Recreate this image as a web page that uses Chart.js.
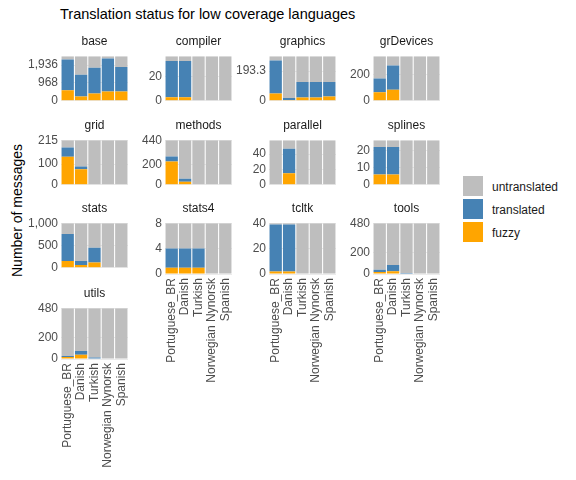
<!DOCTYPE html>
<html>
<head>
<meta charset="utf-8">
<script src="https://cdn.jsdelivr.net/npm/chart.js@4.4.0/dist/chart.umd.min.js"></script>
<style>
body { margin:0; width:576px; height:480px; background:#fff; font-family:"Liberation Sans", Arial, sans-serif; position:relative; overflow:hidden; }
.pane { position:absolute; }
.ptitle { position:absolute; font-size:12px; color:#1a1a1a; text-align:center; }
.leg { position:absolute; font-size:12px; color:#1a1a1a; }
.sw { position:absolute; width:20px; height:20px; }
</style>
</head>
<body>
<div style="position:absolute;left:60px;top:6px;font-size:14.5px;color:#000">Translation status for low coverage languages</div>
<div style="position:absolute;left:-48px;top:204px;width:130px;transform:rotate(-90deg);font-size:14px;color:#000;text-align:center;white-space:nowrap">Number of messages</div>
<div class="leg" style="left:463px;top:166px;font-size:13px"></div>
<div class="sw" style="left:463px;top:176px;background:#bebebe"></div><div class="leg" style="left:492px;top:180px">untranslated</div>
<div class="sw" style="left:463px;top:199px;background:#4682b4"></div><div class="leg" style="left:492px;top:203px">translated</div>
<div class="sw" style="left:463px;top:222px;background:#ffa500"></div><div class="leg" style="left:492px;top:226px">fuzzy</div>
<script>
const languages = ['Portuguese_BR', 'Danish', 'Turkish', 'Norwegian Nynorsk', 'Spanish'];
const packages = ['base','compiler','graphics','grDevices','grid','methods','parallel','splines','stats','stats4','tcltk','tools','utils'];
const totals = [2420, 37, 290, 340, 215, 440, 58, 26, 1000, 8, 40, 480, 480];
const steps = [500, 10, 100, 100, 50, 100, 10, 5, 250, 2, 10, 100, 100];
const fuzzy = [
  [570, 230, 400, 500, 500],
  [3, 3, 0, 0, 0],
  [48, 5, 22, 22, 28],
  [65, 85, 0, 0, 0],
  [135, 75, 0, 0, 0],
  [230, 30, 0, 0, 0],
  [0, 15, 0, 0, 0],
  [6, 6, 0, 0, 0],
  [150, 60, 120, 0, 0],
  [1, 1, 1, 0, 0],
  [2, 2, 0, 0, 0],
  [20, 25, 0, 0, 0],
  [20, 40, 5, 0, 0]
];
const translated = [
  [1670, 1190, 1390, 1800, 1330],
  [30, 30, 0, 0, 0],
  [214, 13, 101, 101, 95],
  [105, 185, 0, 0, 0],
  [45, 13, 0, 0, 0],
  [50, 30, 0, 0, 0],
  [0, 32, 0, 0, 0],
  [16, 16, 0, 0, 0],
  [610, 90, 330, 0, 0],
  [3, 3, 3, 0, 0],
  [37, 37, 0, 0, 0],
  [20, 60, 10, 0, 0],
  [8, 35, 10, 0, 0]
];

const colLeft = [61, 165, 269, 373];
const rowTop = [53, 137, 220, 305];
const plotW = 67, plotH = 54, axisW = 38, padT = 7;
// which panels get x labels
const labelled = ['utils', 'stats4', 'tcltk', 'tools'];

const xLabelPlugin = {
  id: 'xlabels',
  afterDraw(chart) {
    if (!chart.options.plugins.xlabels.show) return;
    const ctx = chart.ctx, xs = chart.scales.x, bottom = chart.chartArea.bottom;
    ctx.save();
    ctx.fillStyle = '#4d4d4d';
    ctx.font = '12px "Liberation Sans", Arial, sans-serif';
    ctx.textAlign = 'right';
    ctx.textBaseline = 'middle';
    languages.forEach((l, i) => {
      ctx.save();
      ctx.translate(xs.getPixelForValue(i), bottom + 4);
      ctx.rotate(-Math.PI / 2);
      ctx.fillText(l, 0, 0);
      ctx.restore();
    });
    ctx.restore();
  }
};

packages.forEach((p, k) => {
  const col = k % 4, row = Math.floor(k / 4);
  const hasLabels = labelled.includes(p);
  const padB = hasLabels ? 110 : 4;
  const div = document.createElement('div');
  div.className = 'pane';
  div.style.left = (colLeft[col] - axisW) + 'px';
  div.style.top = (rowTop[row] - padT) + 'px';
  div.style.width = (axisW + plotW + 2) + 'px';
  div.style.height = (plotH + padT + padB) + 'px';
  const cv = document.createElement('canvas');
  div.appendChild(cv);
  document.body.appendChild(div);
  const t = document.createElement('div');
  t.className = 'ptitle';
  t.style.left = colLeft[col] + 'px';
  t.style.width = plotW + 'px';
  t.style.top = (rowTop[row] - 19) + 'px';
  t.textContent = p;
  document.body.appendChild(t);

  const untranslated = fuzzy[k].map((f, i) => totals[k] - f - translated[k][i]);
  const ds = (label, data, color) => ({ label, data, backgroundColor: color, categoryPercentage: 1, barPercentage: 0.92 });
  new Chart(cv, {
    type: 'bar',
    data: {
      labels: languages,
      datasets: [
        ds('fuzzy', fuzzy[k], '#ffa500'),
        ds('translated', translated[k], '#4682b4'),
        ds('untranslated', untranslated, '#bebebe')
      ]
    },
    plugins: [xLabelPlugin],
    options: {
      animation: false,
      responsive: true,
      maintainAspectRatio: false,
      layout: { padding: { top: padT, bottom: padB, left: 0, right: 2 } },
      plugins: { legend: { display: false }, tooltip: { enabled: false }, xlabels: { show: hasLabels } },
      scales: {
        x: { stacked: true, display: false },
        y: {
          stacked: true, min: 0, max: totals[k],
          afterFit(s) { s.width = axisW; },
          border: { display: false },
          grid: { color: '#ebebeb', drawTicks: false },
          ticks: { stepSize: steps[k], color: '#4d4d4d', padding: 3, font: { size: 12, family: '"Liberation Sans", Arial, sans-serif' } }
        }
      }
    }
  });
});
</script>
</body>
</html>
